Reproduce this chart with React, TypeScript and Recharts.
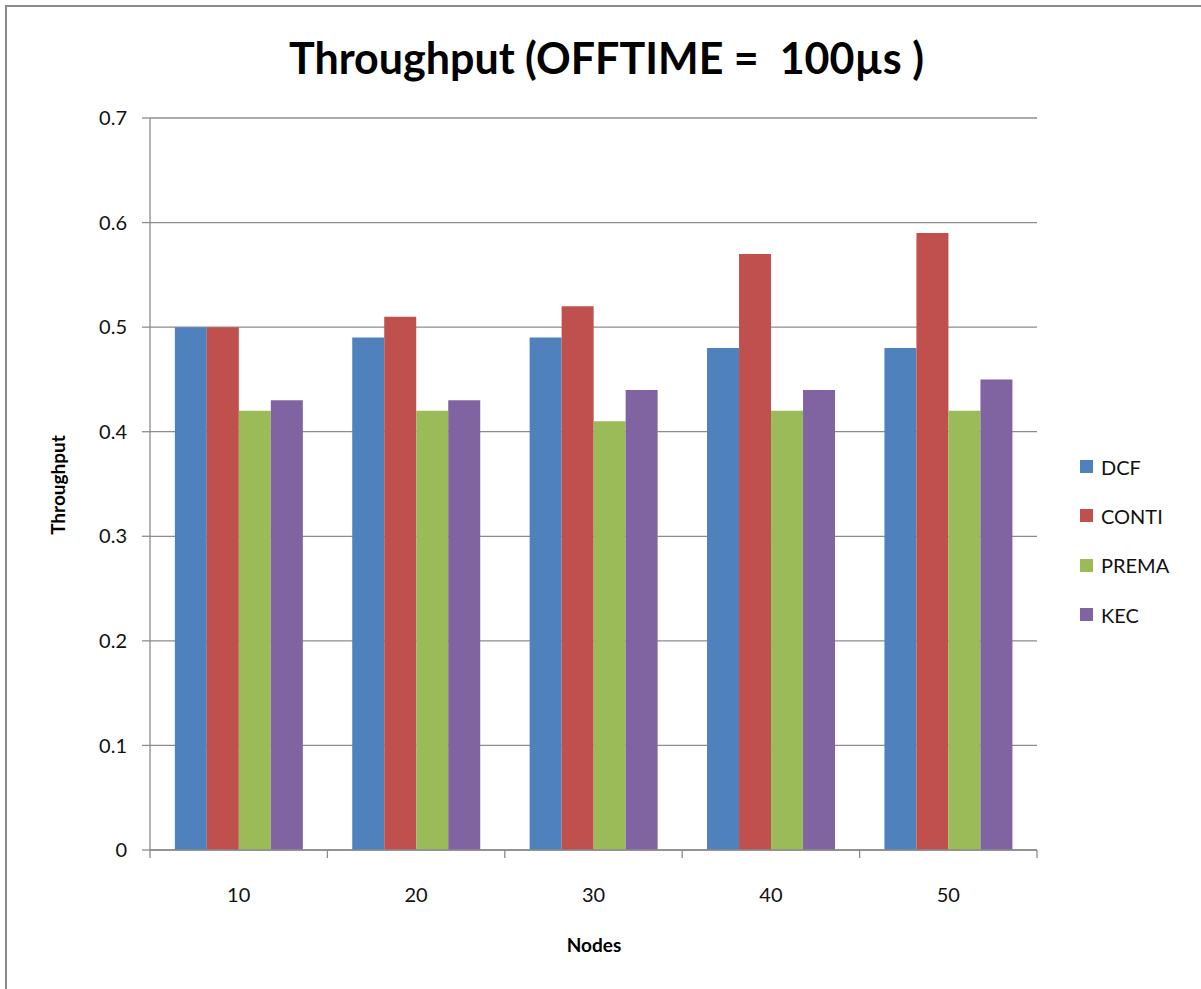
import { Bar, BarChart, CartesianGrid, XAxis, YAxis } from "recharts";

const nodes = ["10", "20", "30", "40", "50"];
const dcf = [0.5, 0.49, 0.49, 0.48, 0.48];
const conti = [0.5, 0.51, 0.52, 0.57, 0.59];
const prema = [0.42, 0.42, 0.41, 0.42, 0.42];
const kec = [0.43, 0.43, 0.44, 0.44, 0.45];
const yTicks = [0, 0.1, 0.2, 0.3, 0.4, 0.5, 0.6, 0.7];

const series = [
  { key: "DCF", color: "#4F81BD" },
  { key: "CONTI", color: "#C0504D" },
  { key: "PREMA", color: "#9BBB59" },
  { key: "KEC", color: "#8064A2" },
];

const data = nodes.map((n, i) => ({
  nodes: n,
  DCF: dcf[i],
  CONTI: conti[i],
  PREMA: prema[i],
  KEC: kec[i],
}));

const font = "Lato, 'Open Sans', sans-serif";

const W = 1201;
const H = 989;
const margin = { top: 118, right: 164, left: 90, bottom: 89 };
const yAxisW = 60;
const band = (W - margin.left - margin.right - yAxisW) / nodes.length;

// label at the category centre, tick marks on the category edges
function NodeTick(props: any) {
  const { x, y, payload, index } = props;
  const stroke = "#8c8c8c";
  return (
    <g>
      <line x1={x - band / 2} x2={x - band / 2} y1={y} y2={y + 8} stroke={stroke} strokeWidth={1.3} />
      {index === nodes.length - 1 && (
        <line x1={x + band / 2} x2={x + band / 2} y1={y} y2={y + 8} stroke={stroke} strokeWidth={1.3} />
      )}
      <text x={x} y={y + 52} textAnchor="middle" fill="#111" fontSize={20} fontFamily={font}>
        {payload.value}
      </text>
    </g>
  );
}

function LegendBox() {
  return (
    <div style={{ fontFamily: font, fontSize: 20, color: "#111" }}>
      {series.map((s) => (
        <div key={s.key} style={{ display: "flex", alignItems: "center", height: 49.3 }}>
          <span
            style={{
              width: 13,
              height: 13,
              background: s.color,
              marginRight: 8,
              display: "inline-block",
            }}
          />
          {s.key}
        </div>
      ))}
    </div>
  );
}

export default function App() {
  return (
    <div
      style={{
        position: "absolute",
        left: 0,
        top: 0,
        width: W,
        height: H,
        background: "#fff",
        overflow: "hidden",
        fontFamily: font,
      }}
    >
      <div
        style={{
          position: "absolute",
          left: 5,
          top: 5,
          width: 1300,
          height: 1100,
          borderTop: "2px solid #8a8a8a",
          borderLeft: "2px solid #8a8a8a",
        }}
      />
      <div
        style={{
          position: "absolute",
          left: 0,
          width: 1213,
          top: 32,
          textAlign: "center",
          fontSize: 43,
          fontWeight: 700,
          color: "#000",
        }}
      >
        Throughput (OFFTIME =&nbsp; 100µs )
      </div>
      <div
        style={{
          position: "absolute",
          left: 57,
          top: 485,
          transform: "translate(-50%, -50%) rotate(-90deg)",
          fontSize: 19,
          fontWeight: 700,
          whiteSpace: "nowrap",
        }}
      >
        Throughput
      </div>
      <div
        style={{
          position: "absolute",
          left: 594,
          top: 944,
          transform: "translate(-50%, -50%)",
          fontSize: 19,
          fontWeight: 700,
        }}
      >
        Nodes
      </div>
      <div style={{ position: "absolute", left: 1080, top: 442 }}>
        <LegendBox />
      </div>
      <div style={{ position: "absolute", left: 0, top: 0 }}>
        <BarChart
          width={W}
          height={H}
          data={data}
          margin={margin}
          barCategoryGap="14%"
          barGap={0}
        >
          <CartesianGrid vertical={false} stroke="#8c8c8c" strokeWidth={1.3} />
          <XAxis
            dataKey="nodes"
            interval={0}
            tickLine={false}
            tickSize={0}
            tickMargin={0}
            tick={<NodeTick />}
            stroke="#8c8c8c"
            strokeWidth={1.3}
            height={50}
          />
          <YAxis
            domain={[0, 0.7]}
            ticks={yTicks}
            tickSize={8}
            tickMargin={15}
            width={yAxisW}
            stroke="#8c8c8c"
            strokeWidth={1.3}
            tick={{ fill: "#111", fontSize: 20, fontFamily: font }}
          />
          {series.map((s) => (
            <Bar key={s.key} dataKey={s.key} fill={s.color} isAnimationActive={false} />
          ))}
        </BarChart>
      </div>
    </div>
  );
}
